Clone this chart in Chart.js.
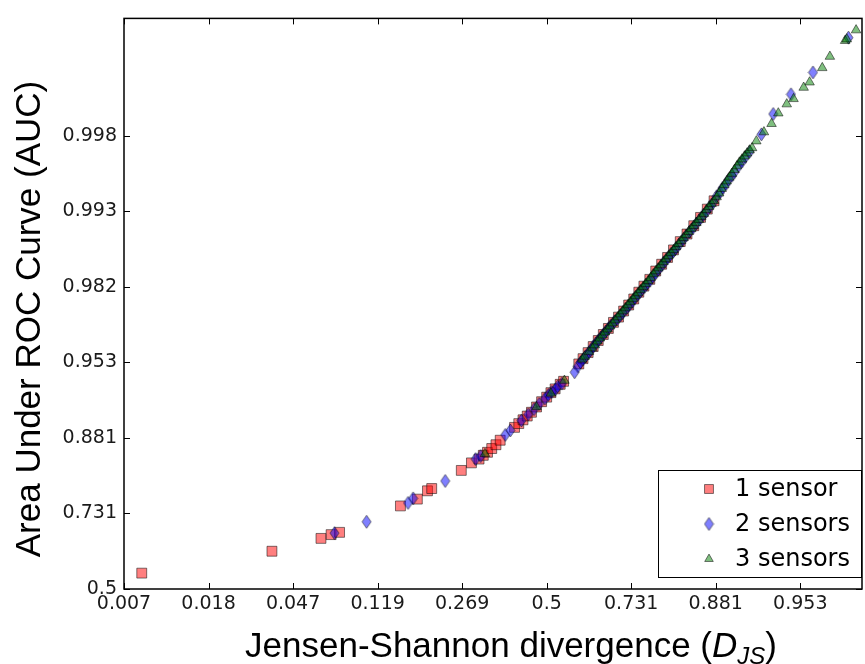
<!DOCTYPE html>
<html>
<head>
<meta charset="utf-8">
<script src="https://cdn.jsdelivr.net/npm/chart.js@4.4.1/dist/chart.umd.min.js"></script>
<style>
  html, body { margin: 0; padding: 0; background: #fff; overflow: hidden; }
  #wrap { width: 865px; height: 664px; overflow: hidden; }
</style>
</head>
<body>
<div id="wrap"><canvas id="myChart" width="870" height="664"></canvas></div>
<script>
// Both axes are logit scales: values below are logit(D_JS) and logit(AUC)
var xTickValues = [-5, -4, -3, -2, -1, 0, 1, 2, 3];
var xTickLabels = ['0.007', '0.018', '0.047', '0.119', '0.269', '0.5', '0.731', '0.881', '0.953'];
var yTickValues = [0, 1, 2, 3, 4, 5, 6];
var yTickLabels = ['0.5', '0.731', '0.881', '0.953', '0.982', '0.993', '0.998'];

var seriesLabels = ['1 sensor', '2 sensors', '3 sensors'];

var oneSensorX = [-4.79, -3.25, -2.67, -2.55, -2.45, -1.73, -1.53, -1.41, -1.36, -1.01,
  -0.89, -0.80, -0.75, -0.70, -0.65, -0.60, -0.55, -0.38, -0.33, -0.28,
  -0.23, -0.18, -0.12, -0.06, 0.00, 0.05, 0.10, 0.16, 0.20, 0.38,
  0.43, 0.49, 0.55, 0.61, 0.67, 0.73, 0.79, 0.85, 0.91, 0.97,
  1.03, 1.09, 1.15, 1.22, 1.29, 1.36, 1.43, 1.50, 1.58, 1.66,
  1.74, 1.82, 1.90, 1.98];
var oneSensorY = [0.21, 0.50, 0.67, 0.72, 0.75, 1.10, 1.19, 1.30, 1.33, 1.57,
  1.67, 1.72, 1.77, 1.81, 1.86, 1.91, 1.97, 2.14, 2.19, 2.24,
  2.29, 2.34, 2.41, 2.48, 2.54, 2.60, 2.65, 2.71, 2.75, 2.98,
  3.05, 3.13, 3.21, 3.29, 3.37, 3.45, 3.53, 3.60, 3.68, 3.76,
  3.84, 3.93, 4.01, 4.10, 4.21, 4.30, 4.39, 4.49, 4.60, 4.70,
  4.81, 4.92, 5.03, 5.14];

var twoSensorsX = [-2.51, -2.13, -1.64, -1.58, -1.20, -0.84, -0.78, -0.49, -0.43, -0.30,
  -0.22, -0.15, -0.09, -0.02, 0.02, 0.06, 0.10, 0.13, 0.18, 0.33,
  0.37, 0.40, 0.43, 0.46, 0.49, 0.52, 0.55, 0.58, 0.61, 0.64,
  0.67, 0.70, 0.73, 0.76, 0.80, 0.83, 0.87, 0.90, 0.94, 0.97,
  1.01, 1.04, 1.08, 1.11, 1.15, 1.18, 1.22, 1.25, 1.29, 1.32,
  1.36, 1.39, 1.43, 1.46, 1.50, 1.53, 1.57, 1.61, 1.65, 1.69,
  1.73, 1.77, 1.81, 1.85, 1.89, 1.93, 1.97, 2.01, 2.05, 2.08,
  2.12, 2.15, 2.19, 2.22, 2.27, 2.31, 2.35, 2.40, 2.54, 2.68,
  2.89, 3.15, 3.57];
var twoSensorsY = [0.74, 0.89, 1.14, 1.20, 1.43, 1.72, 1.76, 2.04, 2.10, 2.23,
  2.31, 2.38, 2.45, 2.52, 2.57, 2.61, 2.64, 2.68, 2.72, 2.87,
  2.95, 3.00, 3.04, 3.08, 3.12, 3.16, 3.21, 3.25, 3.29, 3.33,
  3.37, 3.41, 3.45, 3.49, 3.54, 3.57, 3.62, 3.66, 3.71, 3.75,
  3.80, 3.85, 3.90, 3.94, 3.99, 4.03, 4.08, 4.13, 4.18, 4.23,
  4.28, 4.33, 4.38, 4.42, 4.47, 4.51, 4.57, 4.62, 4.68, 4.73,
  4.78, 4.84, 4.89, 4.95, 5.00, 5.06, 5.12, 5.20, 5.25, 5.31,
  5.36, 5.42, 5.47, 5.52, 5.60, 5.66, 5.72, 5.79, 6.02, 6.29,
  6.55, 6.84, 7.30];

var threeSensorsX = [-0.73, -0.12, 0.05, 0.21, 0.42, 0.45, 0.50, 0.54, 0.57, 0.60,
  0.63, 0.66, 0.69, 0.72, 0.75, 0.78, 0.81, 0.84, 0.87, 0.90,
  0.93, 0.96, 0.99, 1.02, 1.05, 1.08, 1.11, 1.14, 1.17, 1.20,
  1.23, 1.26, 1.29, 1.32, 1.35, 1.38, 1.41, 1.44, 1.47, 1.50,
  1.53, 1.56, 1.59, 1.62, 1.65, 1.68, 1.71, 1.74, 1.77, 1.80,
  1.83, 1.86, 1.89, 1.92, 1.95, 1.98, 2.01, 2.04, 2.07, 2.10,
  2.13, 2.16, 2.19, 2.22, 2.25, 2.28, 2.31, 2.34, 2.37, 2.40,
  2.43, 2.48, 2.57, 2.66, 2.74, 2.84, 2.92, 3.04, 3.11, 3.26,
  3.35, 3.53, 3.55, 3.66];
var threeSensorsY = [1.79, 2.41, 2.59, 2.76, 3.04, 3.08, 3.14, 3.19, 3.23, 3.28,
  3.32, 3.36, 3.40, 3.44, 3.48, 3.52, 3.56, 3.60, 3.64, 3.68,
  3.72, 3.76, 3.80, 3.84, 3.88, 3.92, 3.96, 4.00, 4.04, 4.08,
  4.12, 4.17, 4.21, 4.25, 4.29, 4.33, 4.37, 4.41, 4.45, 4.49,
  4.53, 4.57, 4.61, 4.65, 4.69, 4.73, 4.77, 4.81, 4.85, 4.89,
  4.93, 4.97, 5.02, 5.06, 5.10, 5.14, 5.19, 5.24, 5.30, 5.35,
  5.40, 5.45, 5.50, 5.55, 5.60, 5.65, 5.69, 5.73, 5.77, 5.81,
  5.84, 5.93, 6.05, 6.16, 6.30, 6.42, 6.49, 6.64, 6.71, 6.90,
  7.05, 7.26, 7.28, 7.40];

function toPoints(xs, ys) {
  return xs.map(function (x, i) { return { x: x, y: ys[i] }; });
}

// matplotlib style thin diamond marker
function thinDiamond(w, h, fill, stroke) {
  var c = document.createElement('canvas');
  c.width = w + 2;
  c.height = h + 2;
  var g = c.getContext('2d');
  g.beginPath();
  g.moveTo(c.width / 2, 1);
  g.lineTo(c.width - 1, c.height / 2);
  g.lineTo(c.width / 2, c.height - 1);
  g.lineTo(1, c.height / 2);
  g.closePath();
  g.fillStyle = fill;
  g.fill();
  g.strokeStyle = stroke;
  g.lineWidth = 1;
  g.stroke();
  return c;
}

var edge = 'rgba(0,0,0,0.5)';
var diamond = thinDiamond(9, 13, 'rgba(0,0,255,0.5)', edge);
var tickLen = 6;

var framePlugin = {
  id: 'frame',
  afterDatasetsDraw: function (chart) {
    var ctx = chart.ctx;
    var a = chart.chartArea;
    var xs = chart.scales.x, ys = chart.scales.y;
    ctx.save();
    ctx.strokeStyle = '#000';
    ctx.lineWidth = 1;
    ctx.beginPath();
    xTickValues.forEach(function (v) {
      var px = Math.round(xs.getPixelForValue(v)) + 0.5;
      ctx.moveTo(px, a.bottom); ctx.lineTo(px, a.bottom - tickLen);
      ctx.moveTo(px, a.top); ctx.lineTo(px, a.top + tickLen);
    });
    yTickValues.forEach(function (v) {
      var py = Math.round(ys.getPixelForValue(v)) + 0.5;
      ctx.moveTo(a.left, py); ctx.lineTo(a.left + tickLen, py);
      ctx.moveTo(a.right, py); ctx.lineTo(a.right - tickLen, py);
    });
    ctx.stroke();
    ctx.lineWidth = 1.5;
    ctx.strokeRect(a.left, a.top, a.right - a.left, a.bottom - a.top);
    ctx.restore();
  },
  afterDraw: function (chart) {
    var ctx = chart.ctx;
    ctx.save();
    ctx.fillStyle = '#000';

    // y title
    ctx.font = '35px "Liberation Sans", Arial, sans-serif';
    ctx.textAlign = 'center';
    ctx.textBaseline = 'alphabetic';
    ctx.translate(40, 319);
    ctx.rotate(-Math.PI / 2);
    ctx.fillText('Area Under ROC Curve (AUC)', 0, 0);
    ctx.setTransform(1, 0, 0, 1, 0, 0);

    // x title with italic D and subscript JS
    var parts = [
      { t: 'Jensen-Shannon divergence (', f: '35px "Liberation Sans", Arial, sans-serif', dy: 0 },
      { t: 'D', f: 'italic 35px "Liberation Sans", Arial, sans-serif', dy: 0 },
      { t: 'JS', f: 'italic 24px "Liberation Sans", Arial, sans-serif', dy: 7 },
      { t: ')', f: '35px "Liberation Sans", Arial, sans-serif', dy: 0 }
    ];
    var total = 0;
    parts.forEach(function (p) { ctx.font = p.f; p.w = ctx.measureText(p.t).width; total += p.w; });
    var x = 511 - total / 2;
    ctx.textAlign = 'left';
    parts.forEach(function (p) {
      ctx.font = p.f;
      ctx.fillText(p.t, x, 657 + p.dy);
      x += p.w;
    });

    // legend box
    var bx = 658, by = 470, bw = 203, bh = 107;
    ctx.fillStyle = '#fff';
    ctx.fillRect(bx, by, bw, bh);
    ctx.strokeStyle = '#000';
    ctx.lineWidth = 1;
    ctx.strokeRect(bx + 0.5, by + 0.5, bw, bh);
    ctx.font = '24px "DejaVu Sans", sans-serif';
    ctx.textBaseline = 'middle';
    chart.data.datasets.forEach(function (ds, i) {
      var cy = 489 + i * 35;
      ctx.fillStyle = ds.pointBackgroundColor;
      ctx.strokeStyle = ds.pointBorderColor;
      ctx.lineWidth = 1;
      Chart.helpers.drawPoint(ctx, {
        pointStyle: ds.pointStyle, radius: ds.pointRadius * 0.9, rotation: 0, borderWidth: 1
      }, 709, cy);
      ctx.fillStyle = '#000';
      ctx.fillText(ds.label, 735, cy + 1);
    });
    ctx.restore();
  }
};

var tickFont = { family: '"DejaVu Sans", sans-serif', size: 19 };

var ctx = document.getElementById('myChart').getContext('2d');
var myChart = new Chart(ctx, {
  type: 'scatter',
  data: {
    datasets: [
      {
        label: seriesLabels[0],
        data: toPoints(oneSensorX, oneSensorY),
        pointStyle: 'rect',
        pointRadius: 7,
        pointBackgroundColor: 'rgba(255,0,0,0.5)',
        pointBorderColor: edge,
        pointBorderWidth: 1,
        order: 3
      },
      {
        label: seriesLabels[1],
        data: toPoints(twoSensorsX, twoSensorsY),
        pointStyle: diamond,
        pointRadius: 6,
        pointBackgroundColor: 'rgba(0,0,255,0.5)',
        pointBorderColor: edge,
        pointBorderWidth: 1,
        order: 2
      },
      {
        label: seriesLabels[2],
        data: toPoints(threeSensorsX, threeSensorsY),
        pointStyle: 'triangle',
        pointRadius: 5.5,
        pointBackgroundColor: 'rgba(0,128,0,0.5)',
        pointBorderColor: edge,
        pointBorderWidth: 1,
        order: 1
      }
    ]
  },
  options: {
    responsive: false,
    animation: false,
    devicePixelRatio: 1,
    events: [],
    layout: { padding: { top: 13, right: 4, bottom: 0, left: 0 } },
    plugins: {
      legend: { display: false },
      tooltip: { enabled: false }
    },
    scales: {
      x: {
        type: 'linear',
        min: -5,
        max: 3.73,
        afterFit: function (s) { s.height = 75; },
        afterBuildTicks: function (s) { s.ticks = xTickValues.map(function (v) { return { value: v }; }); },
        grid: { display: false, drawTicks: false },
        border: { display: false },
        ticks: {
          autoSkip: false, maxRotation: 0, padding: 4, color: '#1a1a1a', font: tickFont,
          callback: function (v) { return xTickLabels[xTickValues.indexOf(v)]; }
        }
      },
      y: {
        type: 'linear',
        min: 0,
        max: 7.555,
        afterFit: function (s) { s.width = 124; },
        afterBuildTicks: function (s) { s.ticks = yTickValues.map(function (v) { return { value: v }; }); },
        grid: { display: false, drawTicks: false },
        border: { display: false },
        ticks: {
          autoSkip: false, padding: 7, color: '#1a1a1a', font: tickFont,
          callback: function (v) { return yTickLabels[yTickValues.indexOf(v)]; }
        }
      }
    }
  },
  plugins: [framePlugin]
});
</script>
</body>
</html>
